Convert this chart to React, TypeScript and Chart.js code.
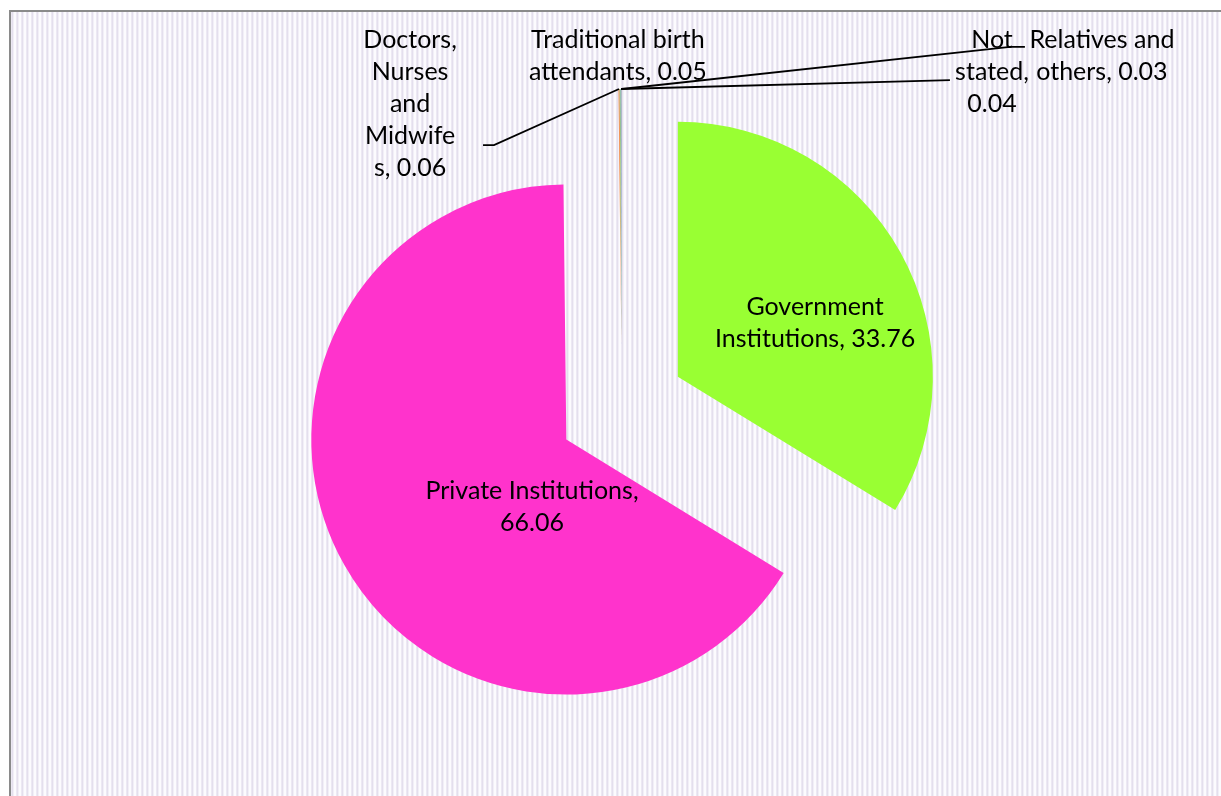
import React, { useEffect, useRef } from "react";
import { Chart, registerables } from "chart.js";

Chart.register(...registerables);

// ---- data ----
const categories = [
  "Government Institutions",
  "Private Institutions",
  "Doctors, Nurses and Midwifes",
  "Traditional birth attendants",
  "Not stated",
  "Relatives and others",
];
const values = [33.76, 66.06, 0.06, 0.05, 0.04, 0.03];
const sliceColors = ["#99ff33", "#ff33cc", "#ed7d31", "#70ad47", "#5b9bd5", "#a5a5a5"];

// Displayed label lines ("{v}" is replaced by the value)
const labelLines: string[][] = [
  ["Government", "Institutions, {v}"],
  ["Private Institutions,", "{v}"],
  ["Doctors,", "Nurses", "and", "Midwife", "s, {v}"],
  ["Traditional birth", "attendants, {v}"],
  ["Not", "stated,", "{v}"],
  ["Relatives and", "others, {v}"],
];
// label centres, in radius units from the pie centre
const labelAnchors: [number, number][] = [
  [0.757, -0.333],
  [-0.353, 0.388],
  [-0.831, -1.192],
  [-0.016, -1.38],
  [1.451, -1.318],
  [1.882, -1.38],
];
// leader line bend points (radius units from pie centre), null = none
const leaderPaths: ([number, number][] | null)[] = [
  null,
  null,
  [[-0.502, -1.031], [-0.545, -1.031]],
  null,
  [[1.286, -1.286]],
  [[1.522, -1.416], [1.58, -1.416]],
];

const EXPLODE = 64;
const RADIUS = 255;
const FONT_SIZE = 25;
const LINE_H = 32;
const FONT_FAMILY = "Lato, 'Open Sans', sans-serif";

const explodePlugin = {
  id: "explodeSlices",
  afterUpdate(chart: any) {
    const meta = chart.getDatasetMeta(0);
    meta.data.forEach((arc: any) => {
      const mid = (arc.startAngle + arc.endAngle) / 2;
      arc.x += Math.cos(mid) * EXPLODE;
      arc.y += Math.sin(mid) * EXPLODE;
    });
  },
};

const labelPlugin = {
  id: "sliceLabels",
  afterDatasetsDraw(chart: any) {
    const ctx: CanvasRenderingContext2D = chart.ctx;
    const meta = chart.getDatasetMeta(0);
    const a0: any = meta.data[0];
    const mid0 = (a0.startAngle + a0.endAngle) / 2;
    const cx = a0.x - Math.cos(mid0) * EXPLODE;
    const cy = a0.y - Math.sin(mid0) * EXPLODE;
    const R = a0.outerRadius;
    ctx.save();
    // leader lines
    ctx.strokeStyle = "#000000";
    ctx.lineWidth = 1.8;
    meta.data.forEach((arc: any, i: number) => {
      const path = leaderPaths[i];
      if (!path) return;
      const mid = (arc.startAngle + arc.endAngle) / 2;
      const tx = arc.x + Math.cos(mid) * arc.outerRadius;
      const ty = arc.y + Math.sin(mid) * arc.outerRadius;
      ctx.beginPath();
      ctx.moveTo(tx, ty);
      path.forEach(([px, py]) => ctx.lineTo(cx + px * R, cy + py * R));
      ctx.stroke();
    });
    // texts
    ctx.fillStyle = "#000000";
    ctx.font = `${FONT_SIZE}px ${FONT_FAMILY}`;
    ctx.textAlign = "center";
    ctx.textBaseline = "middle";
    labelLines.forEach((lines, i) => {
      const [ax, ay] = labelAnchors[i];
      const x = cx + ax * R;
      const y0 = cy + ay * R - ((lines.length - 1) / 2) * LINE_H;
      lines.forEach((ln, j) => {
        ctx.fillText(ln.replace("{v}", values[i].toFixed(2)), x, y0 + j * LINE_H);
      });
    });
    ctx.restore();
  },
};

export default function App() {
  const ref = useRef<HTMLCanvasElement | null>(null);
  useEffect(() => {
    if (!ref.current) return;
    const chart = new Chart(ref.current, {
      type: "pie",
      data: {
        labels: categories,
        datasets: [
          {
            data: values,
            backgroundColor: sliceColors,
            borderWidth: 0,
          },
        ],
      },
      options: {
        responsive: false,
        animation: false,
        events: [],
        radius: RADIUS,
        layout: { padding: { left: 23, right: 0, top: 20, bottom: 0 } },
        plugins: {
          legend: { display: false },
          tooltip: { enabled: false },
          title: { display: false },
        },
      } as any,
      plugins: [explodePlugin, labelPlugin],
    });
    return () => chart.destroy();
  }, []);

  return (
    <div
      style={{
        position: "fixed",
        left: 0,
        top: 0,
        width: "100vw",
        height: "100vh",
        overflow: "hidden",
        background: "#ffffff",
      }}
    >
      <div
        style={{
          position: "absolute",
          left: 9,
          top: 10,
          width: 1400,
          height: 1000,
          borderLeft: "2px solid #8a8a8a",
          borderTop: "2px solid #8a8a8a",
          background:
            "repeating-linear-gradient(90deg, #ece8f3 0px, #ece8f3 1px, #e4dfed 1px, #e4dfed 2px, #f2eff7 2px, #f2eff7 3px, #fcfbfe 3px, #fcfbfe 5px)",
        }}
      />
      <canvas
        ref={ref}
        width={1221}
        height={796}
        style={{ position: "absolute", left: 0, top: 0, width: 1221, height: 796 }}
      />
    </div>
  );
}
